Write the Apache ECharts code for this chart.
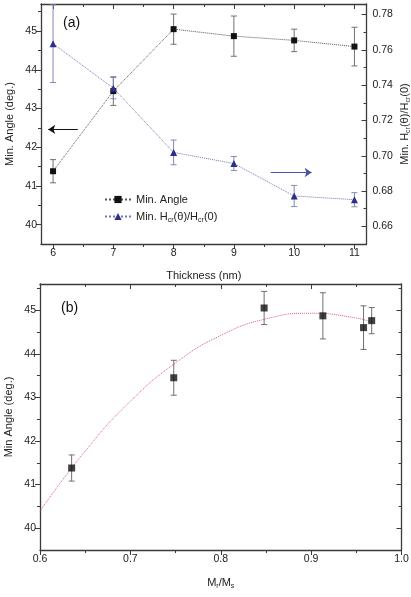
<!DOCTYPE html>
<html>
<head>
<meta charset="utf-8">
<script src="https://cdn.jsdelivr.net/npm/echarts@6/dist/echarts.min.js"></script>
<style>
  html, body { margin: 0; padding: 0; background: #fff; }
  #chart { width: 411px; height: 597px; }
</style>
</head>
<body>
<div id="chart"></div>
<script>
// panel (a): values vs thickness
var thickness = [6, 7, 8, 9, 10, 11];
var minAngle = [41.38, 43.45, 45.05, 44.87, 44.76, 44.60];
var minAngleErr = [0.30, 0.37, 0.39, 0.52, 0.29, 0.50];
var hRatio = [0.7635, 0.7383, 0.7019, 0.6956, 0.6772, 0.6751];
var hRatioErr = [0.022, 0.006, 0.007, 0.004, 0.006, 0.004];

// panel (b): min angle vs Mr/Ms
var mrms = [0.635, 0.748, 0.848, 0.913, 0.958, 0.967];
var angleB = [41.38, 43.45, 45.05, 44.87, 44.60, 44.76];
var angleBErr = [0.30, 0.40, 0.38, 0.53, 0.50, 0.30];
// fitted curve
var fitX = [0.60, 0.65, 0.70, 0.75, 0.80, 0.85, 0.90, 0.95, 0.967];
var fitY = [40.39, 41.77, 42.91, 43.79, 44.42, 44.80, 44.93, 44.82, 44.72];

// ticks
var xTicksA = [6, 7, 8, 9, 10, 11];
var xMinorA = [6.5, 7.5, 8.5, 9.5, 10.5];
var yTicksA = [40, 41, 42, 43, 44, 45];
var yMinorA = [40.5, 41.5, 42.5, 43.5, 44.5, 45.5];
var rTicksA = [0.66, 0.68, 0.70, 0.72, 0.74, 0.76, 0.78];
var rMinorA = [0.67, 0.69, 0.71, 0.73, 0.75, 0.77];
var xTicksB = [0.6, 0.7, 0.8, 0.9, 1.0];
var xMinorB = [0.65, 0.75, 0.85, 0.95];
var yTicksB = [40, 41, 42, 43, 44, 45];
var yMinorB = [40.5, 41.5, 42.5, 43.5, 44.5, 45.5];

var FONT = 'Liberation Sans, Arial, sans-serif';
var AXC = '#3a3a3a';
var rich = {
	a: { fontSize: 11, lineHeight: 14, color: '#222', fontFamily: FONT },
	s: { fontSize: 7, lineHeight: 7, verticalAlign: 'bottom', color: '#222', fontFamily: FONT }
};

function axis(grid, pos, min, max, ticks, len, inside, opts) {
	opts = opts || {};
	var a = {
		type: 'value', gridIndex: grid, position: pos, min: min, max: max,
		axisLine: { show: !!opts.line, onZero: false, lineStyle: { color: AXC, width: 1.3 } },
		axisTick: { show: true, inside: inside, length: len, customValues: ticks, lineStyle: { color: AXC, width: 1 } },
		axisLabel: { show: false },
		splitLine: { show: false }
	};
	if (opts.labels) {
		a.axisLabel = { show: true, customValues: ticks, fontSize: 10.5, color: '#222', fontFamily: FONT, margin: opts.margin || 4, formatter: opts.fmt };
	}
	if (opts.name) {
		a.name = opts.name;
		a.nameLocation = 'middle';
		a.nameGap = opts.gap;
		a.nameMoveOverlap = false;
		a.nameRotate = opts.rot || 0;
		a.nameTextStyle = { fontSize: 11, color: '#222', fontFamily: FONT, rich: rich };
	}
	return a;
}

function errBar(color) {
	return function (params, api) {
		var x = api.value(0), lo = api.value(1), hi = api.value(2);
		var p1 = api.coord([x, hi]), p2 = api.coord([x, lo]);
		var w = 3;
		var st = { stroke: color, lineWidth: 1 };
		return {
			type: 'group',
			children: [
				{ type: 'line', shape: { x1: p1[0], y1: p1[1], x2: p2[0], y2: p2[1] }, style: st },
				{ type: 'line', shape: { x1: p1[0] - w, y1: p1[1], x2: p1[0] + w, y2: p1[1] }, style: st },
				{ type: 'line', shape: { x1: p2[0] - w, y1: p2[1], x2: p2[0] + w, y2: p2[1] }, style: st }
			]
		};
	};
}

function pairs(xs, ys) { return xs.map(function (x, i) { return [x, ys[i]]; }); }
function errs(xs, ys, es) { return xs.map(function (x, i) { return [x, ys[i] - es[i], ys[i] + es[i]]; }); }

var f1 = function (v) { return v.toFixed(1); };
var f2 = function (v) { return v.toFixed(2); };

var chart = echarts.init(document.getElementById('chart'), null, { renderer: 'canvas' });

chart.setOption({
	animation: false,
	backgroundColor: '#fff',
	grid: [
		{ left: 41, top: 4, width: 325.5, height: 240, outerBoundsMode: 'none', containLabel: false },
		{ left: 40, top: 284, width: 361.5, height: 266, outerBoundsMode: 'none', containLabel: false }
	],
	xAxis: [
		axis(0, 'bottom', 5.8, 11.2, xTicksA, 5, false, { line: true, labels: true, name: 'Thickness (nm)', gap: 26 }),
		axis(0, 'bottom', 5.8, 11.2, xMinorA, 3, false),
		axis(0, 'top', 5.8, 11.2, xTicksA, 5, true, { line: true }),
		axis(0, 'top', 5.8, 11.2, xMinorA, 3, true),
		axis(1, 'bottom', 0.6, 1.0, xTicksB, 5, false, { line: true, labels: true, fmt: f1, name: '{a|M}{s|r}{a|/M}{s|s}', gap: 26 }),
		axis(1, 'bottom', 0.6, 1.0, xMinorB, 3, false),
		axis(1, 'top', 0.6, 1.0, xTicksB, 5, true, { line: true }),
		axis(1, 'top', 0.6, 1.0, xMinorB, 3, true)
	],
	yAxis: [
		axis(0, 'left', 39.5, 45.7, yTicksA, 5, false, { line: true, labels: true, name: 'Min. Angle (deg.)', gap: 26, rot: 90 }),
		axis(0, 'left', 39.5, 45.7, yMinorA, 3, false),
		axis(0, 'right', 0.65, 0.786, rTicksA, 5, true, { line: true, labels: true, margin: 6, fmt: f2, name: '{a|Min. H}{s|cr}{a|(θ)/H}{s|cr}{a|(0)}', gap: 31, rot: 90 }),
		axis(0, 'right', 0.65, 0.786, rMinorA, 3, true),
		axis(1, 'left', 39.5, 45.6, yTicksB, 5, false, { line: true, labels: true, name: 'Min Angle (deg.)', gap: 26, rot: 90 }),
		axis(1, 'left', 39.5, 45.6, yMinorB, 3, false),
		axis(1, 'right', 39.5, 45.6, yTicksB, 5, true, { line: true }),
		axis(1, 'right', 39.5, 45.6, yMinorB, 3, true)
	],
	legend: {
		left: 99, top: 189, orient: 'vertical',
		itemWidth: 26, itemHeight: 9, itemGap: 6,
		data: ['Min. Angle', 'Min. Hcr(θ)/Hcr(0)'],
		formatter: function (name) {
			return name === 'Min. Angle' ? '{a|Min. Angle}' : '{a|Min. H}{s|cr}{a|(θ)/H}{s|cr}{a|(0)}';
		},
		textStyle: { rich: rich }
	},
	graphic: [
		{ type: 'text', left: 63, top: 16, style: { text: '(a)', fontSize: 14, fill: '#111', fontFamily: FONT } },
		{ type: 'text', left: 61, top: 301, style: { text: '(b)', fontSize: 14, fill: '#111', fontFamily: FONT } }
	],
	series: [
		{
			type: 'custom', name: 'errA', xAxisIndex: 0, yAxisIndex: 0, clip: true, z: 1,
			renderItem: errBar('#707070'), data: errs(thickness, minAngle, minAngleErr)
		},
		{
			type: 'custom', name: 'errH', xAxisIndex: 0, yAxisIndex: 2, clip: true, z: 1,
			renderItem: errBar('#8487b8'), data: errs(thickness, hRatio, hRatioErr)
		},
		{
			name: 'Min. Angle', type: 'line', xAxisIndex: 0, yAxisIndex: 0, z: 3,
			data: pairs(thickness, minAngle),
			symbol: 'rect', symbolSize: 6,
			itemStyle: { color: '#111' },
			lineStyle: { color: '#555', width: 1, type: 'dotted' },
			markLine: {
				silent: true, symbol: ['none', 'arrow'], symbolSize: 7,
				lineStyle: { color: '#111', width: 1, type: 'solid' }, label: { show: false },
				data: [[{ coord: [6.41, 42.46] }, { coord: [5.92, 42.46] }]]
			}
		},
		{
			name: 'Min. Hcr(θ)/Hcr(0)', type: 'line', xAxisIndex: 0, yAxisIndex: 2, z: 3,
			data: pairs(thickness, hRatio),
			symbol: 'triangle', symbolSize: 7,
			itemStyle: { color: '#2b2f8a' },
			lineStyle: { color: '#7376b4', width: 1, type: 'dotted' },
			markLine: {
				silent: true, symbol: ['none', 'arrow'], symbolSize: 7,
				lineStyle: { color: '#4a4fa8', width: 1, type: 'solid' }, label: { show: false },
				data: [[{ coord: [9.61, 0.6905] }, { coord: [10.29, 0.6905] }]]
			}
		},
		{
			type: 'line', name: 'fit', xAxisIndex: 4, yAxisIndex: 4, z: 2,
			data: pairs(fitX, fitY), smooth: true, symbol: 'none',
			lineStyle: { color: '#d9646c', width: 1, type: 'dotted' }
		},
		{
			type: 'custom', name: 'errB', xAxisIndex: 4, yAxisIndex: 4, clip: true, z: 3,
			renderItem: errBar('#707070'), data: errs(mrms, angleB, angleBErr)
		},
		{
			type: 'scatter', name: 'ptsB', xAxisIndex: 4, yAxisIndex: 4, z: 4,
			data: pairs(mrms, angleB), symbol: 'rect', symbolSize: 7,
			itemStyle: { color: '#111' }
		}
	]
});
</script>
</body>
</html>
